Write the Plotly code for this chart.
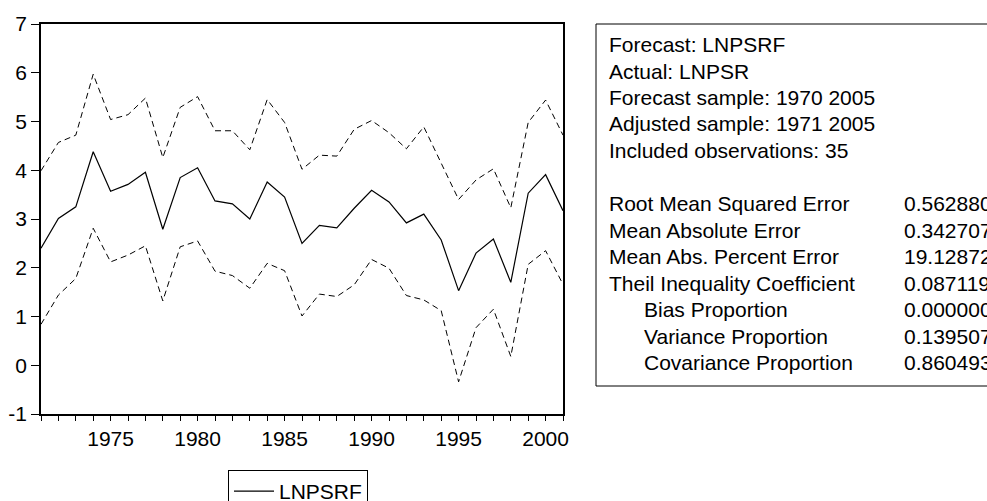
import plotly.graph_objects as go

years = list(range(1971, 2002))
forecast = [2.40, 3.01, 3.25, 4.38, 3.57, 3.71, 3.96, 2.79, 3.85, 4.05,
            3.37, 3.31, 3.00, 3.76, 3.45, 2.50, 2.87, 2.82, 3.22, 3.59,
            3.35, 2.92, 3.10, 2.57, 1.53, 2.30, 2.59, 1.70, 3.53, 3.91, 3.17]
upper = [3.99, 4.57, 4.72, 5.97, 5.04, 5.14, 5.48, 4.26, 5.29, 5.51,
         4.81, 4.81, 4.42, 5.45, 4.98, 4.02, 4.31, 4.29, 4.84, 5.02,
         4.77, 4.44, 4.89, 4.14, 3.40, 3.80, 4.03, 3.23, 4.98, 5.44, 4.72]
lower = [0.84, 1.44, 1.78, 2.81, 2.12, 2.26, 2.45, 1.32, 2.43, 2.55,
         1.93, 1.84, 1.58, 2.09, 1.94, 1.01, 1.46, 1.41, 1.65, 2.17,
         1.99, 1.43, 1.34, 1.12, -0.34, 0.77, 1.15, 0.18, 2.07, 2.35, 1.66]

y_tick_vals = [-1, 0, 1, 2, 3, 4, 5, 6, 7]
y_tick_labels = ["-1", "0", "1", "2", "3", "4", "5", "6", "7"]

info_lines = ["Forecast: LNPSRF", "Actual: LNPSR", "Forecast sample: 1970 2005",
              "Adjusted sample: 1971 2005", "Included observations: 35"]
stat_names = ["Root Mean Squared Error", "Mean Absolute Error", "Mean Abs. Percent Error",
              "Theil Inequality Coefficient", "Bias Proportion", "Variance Proportion",
              "Covariance Proportion"]
stat_values = ["0.562880", "0.342707", "19.12872", "0.087119", "0.000000", "0.139507", "0.860493"]
stat_indent = [False, False, False, False, True, True, True]

W, H = 987, 501
L, R, T, B = 41, 563, 24, 414
pw, ph = R - L, B - T

def px_x(x):
    return (x - L) / pw

def px_y(y):
    return (B - y) / ph

FONT = "Arial, Liberation Sans, sans-serif"
FS = 21

fig = go.Figure()
fig.add_trace(go.Scatter(x=years, y=forecast, mode="lines", name="LNPSRF",
                         line=dict(color="black", width=1.2)))
fig.add_trace(go.Scatter(x=years, y=upper, mode="lines", showlegend=False,
                         line=dict(color="black", width=1, dash="6px,4px")))
fig.add_trace(go.Scatter(x=years, y=lower, mode="lines", showlegend=False,
                         line=dict(color="black", width=1, dash="6px,4px")))

annotations = []
for i, t in enumerate(info_lines):
    annotations.append(dict(x=px_x(607), y=px_y(44.5 + 26.5 * i), xref="paper", yref="paper",
                            text=t, showarrow=False, xanchor="left", yanchor="middle",
                            font=dict(size=FS, color="black", family=FONT)))
for j, (n, v, ind) in enumerate(zip(stat_names, stat_values, stat_indent)):
    yy = px_y(44.5 + 26.5 * (j + 6))
    annotations.append(dict(x=px_x(642 if ind else 607), y=yy, xref="paper", yref="paper",
                            text=n, showarrow=False, xanchor="left", yanchor="middle",
                            font=dict(size=FS, color="black", family=FONT)))
    annotations.append(dict(x=px_x(902), y=yy, xref="paper", yref="paper",
                            text=v, showarrow=False, xanchor="left", yanchor="middle",
                            font=dict(size=FS, color="black", family=FONT)))

fig.update_layout(
    width=W, height=H,
    margin=dict(l=L, r=W - R, t=T, b=H - B, pad=0, autoexpand=False),
    paper_bgcolor="white", plot_bgcolor="white",
    font=dict(family=FONT, size=FS, color="black"),
    showlegend=True,
    legend=dict(x=px_x(228), y=px_y(470), xanchor="left", yanchor="top",
                bordercolor="black", borderwidth=1, bgcolor="white", itemwidth=40,
                font=dict(size=FS, color="black", family=FONT)),
    annotations=annotations,
    shapes=[dict(type="rect", xref="paper", yref="paper",
                 x0=px_x(596), x1=px_x(1010), y0=px_y(386), y1=px_y(24),
                 line=dict(color="black", width=1))],
)
fig.update_xaxes(range=[1971, 2001], showgrid=False, zeroline=False,
                 showline=True, linecolor="black", linewidth=1.5, mirror=True,
                 tick0=1975, dtick=5, ticks="outside", ticklen=5, tickcolor="black",
                 minor=dict(dtick=1, tick0=1971, ticks="outside", ticklen=5, tickcolor="black"),
                 tickfont=dict(size=FS, family=FONT, color="black"))
fig.update_yaxes(range=[-1, 7], showgrid=False, zeroline=False,
                 showline=True, linecolor="black", linewidth=1.5, mirror=True,
                 tickmode="array", tickvals=y_tick_vals, ticktext=y_tick_labels,
                 ticks="outside", ticklen=8, tickcolor="black",
                 tickfont=dict(size=FS, family=FONT, color="black"))

fig.write_html("out.html")
